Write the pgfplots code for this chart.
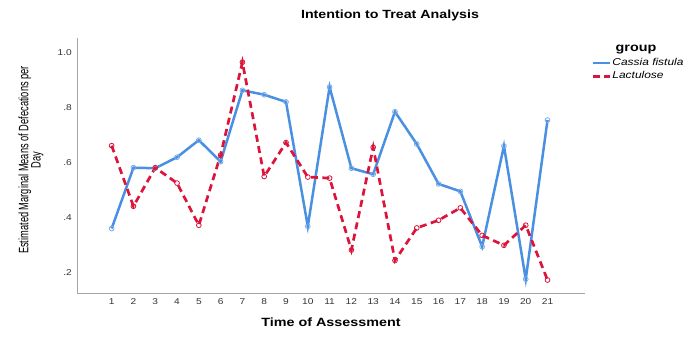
\documentclass[border=0pt]{standalone}
\usepackage{fontspec}
\setmainfont[FakeStretch=1.2]{Liberation Sans}
\newfontfamily\ylfont[FakeStretch=0.68]{Liberation Sans}
\usepackage{pgfplots}
\pgfplotsset{compat=1.18}

\definecolor{cassia}{RGB}{74,144,226}
\definecolor{lactu}{RGB}{220,20,60}

\begin{document}
\begin{tikzpicture}[x=1bp,y=1bp]
\useasboundingbox (0,0) rectangle (695,342);
\node[font=\bfseries\fontsize{11.9}{13}\selectfont] at (390,327) {Intention to Treat Analysis};
\begin{axis}[
  at={(77bp,48.5bp)}, anchor=south west,
  scale only axis, width=508bp, height=255.5bp,
  xmin=-0.59, xmax=22.72, ymin=0.125, ymax=1.053,
  axis x line*=bottom, axis y line*=left,
  axis line style={-, draw=black!35, line width=1bp},
  clip=false,
  xtick={1,...,21},
  xticklabel={\pgfmathprintnumber{\tick}},
  ytick={0.2,0.4,0.6,0.8,1.0},
  yticklabels={.2,.4,.6,.8,1.0},
  major tick length=0pt,
  /pgf/number format/assume math mode=true,
  tick label style={font=\fontsize{8.5}{9}\selectfont, text=black!80},
  xticklabel style={anchor=center, yshift=-8.5bp},
  yticklabel style={anchor=east, inner xsep=0pt, xshift=-5bp},
  xlabel={Time of Assessment},
  xlabel style={at={(axis description cs:0.5,0)}, anchor=center, yshift=-28.5bp,
    font=\bfseries\fontsize{12}{13}\selectfont},
  ylabel={Estimated Marginal Means of Defecations per\\Day},
  ylabel style={at={(axis description cs:-0.0906,0.5225)}, anchor=center, align=center,
    font=\ylfont\fontsize{13.7}{12.5}\selectfont},
  legend style={at={(axis description cs:1.0118,0.9276)}, anchor=north west,
    draw=none, fill=none, inner sep=0pt,
    font=\itshape\fontsize{10}{11}\selectfont,
    nodes={inner xsep=1bp, inner ysep=2bp, text height=7bp, text depth=2bp},
    column sep=0.5bp},
  legend cell align=left,
  legend image code/.code={\draw[#1, mark=none] (0bp,0bp) -- (17bp,0bp);},
]
% Cassia fistula group
\addplot[cassia, line width=2.5bp, mark=o, mark size=2.4bp,
  mark options={solid, line width=0.8bp, draw=cassia!75, fill=white}]
  table {
x y
1 0.361
2 0.582
3 0.580
4 0.620
5 0.682
6 0.604
7 0.863
8 0.847
9 0.821
10 0.369
11 0.875
12 0.580
13 0.558
14 0.785
15 0.668
16 0.523
17 0.496
18 0.295
19 0.661
20 0.177
21 0.755
};
\addlegendentry{Cassia fistula}
% Lactulose group
\addplot[lactu, line width=2.7bp, dash pattern=on 7bp off 4.5bp, mark=o, mark size=2.4bp,
  mark options={solid, line width=0.8bp, draw=lactu, fill=white}]
  table {
x y
1 0.662
2 0.442
3 0.582
4 0.526
5 0.373
6 0.628
7 0.965
8 0.550
9 0.673
10 0.548
11 0.544
12 0.283
13 0.656
14 0.245
15 0.363
16 0.391
17 0.436
18 0.336
19 0.300
20 0.373
21 0.174
};
\addlegendentry{Lactulose}
\end{axis}
\node[font=\bfseries\fontsize{12}{13}\selectfont] at (636,292) {group};
\end{tikzpicture}
\end{document}
